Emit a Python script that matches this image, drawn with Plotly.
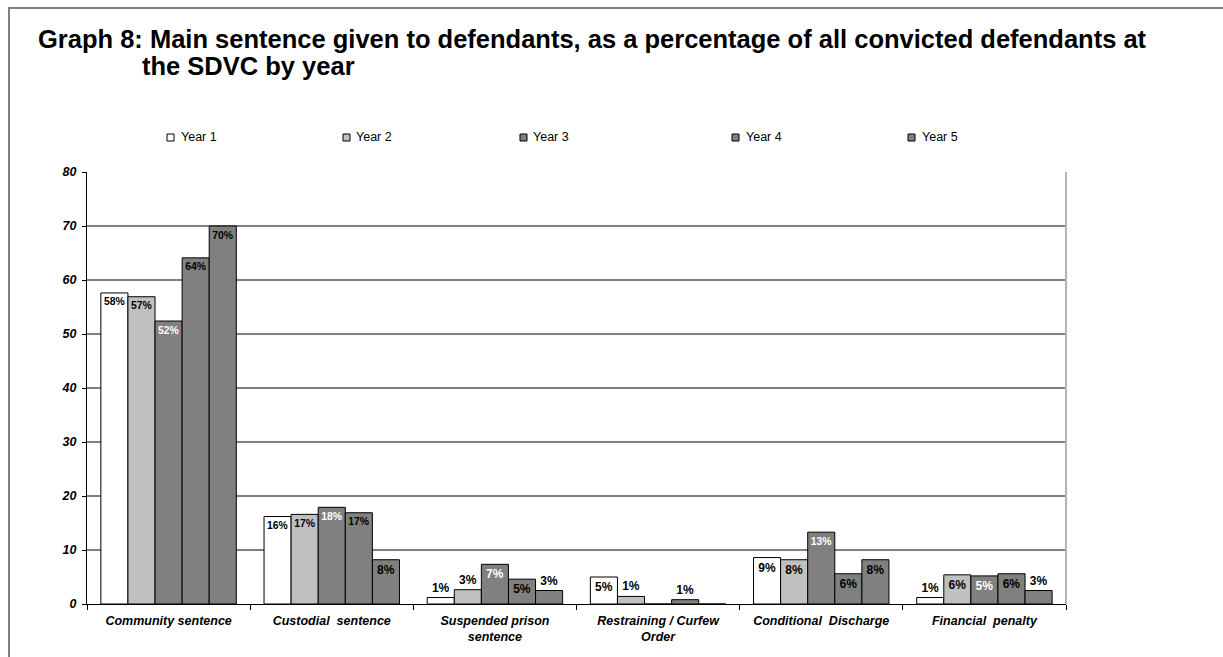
import plotly.graph_objects as go

categories = ["Community sentence", "Custodial  sentence", "Suspended prison<br>sentence",
              "Restraining / Curfew<br>Order", "Conditional  Discharge", "Financial  penalty"]
years = ["Year 1", "Year 2", "Year 3", "Year 4", "Year 5"]

year1 = [57.6, 16.2, 1.2, 5.0, 8.6, 1.2]
year2 = [56.9, 16.6, 2.65, 1.4, 8.2, 5.4]
year3 = [52.4, 17.9, 7.35, 0.0, 13.3, 5.2]
year4 = [64.1, 16.9, 4.6, 0.8, 5.6, 5.6]
year5 = [70.0, 8.2, 2.5, 0.0, 8.2, 2.5]

labels1 = ["58%", "16%", "1%", "5%", "9%", "1%"]
labels2 = ["57%", "17%", "3%", "1%", "8%", "6%"]
labels3 = ["52%", "18%", "7%", "", "13%", "5%"]
labels4 = ["64%", "17%", "5%", "1%", "6%", "6%"]
labels5 = ["70%", "8%", "3%", "", "8%", "3%"]

series = [year1, year2, year3, year4, year5]
labels = [labels1, labels2, labels3, labels4, labels5]
colors = ["#ffffff", "#c0c0c0", "#808080", "#808080", "#808080"]
inside_text_colors = ["#000000", "#000000", "#ffffff", "#000000", "#000000"]

positions = [
    ["inside", "inside", "outside", "inside", "inside", "outside"],
    ["inside", "inside", "outside", "outside", "inside", "inside"],
    ["inside", "inside", "inside", "none", "inside", "inside"],
    ["inside", "inside", "inside", "outside", "inside", "inside"],
    ["inside", "inside", "outside", "none", "inside", "outside"],
]

W, H = 1223, 657
L, R, T, B = 87, 157, 172, 53
PW, PH = W - L - R, H - T - B


def px(x):
    return (x - L) / PW


def py(y):
    return (H - B - y) / PH


FONT = "Liberation Sans, Arial, sans-serif"
fig = go.Figure()

for i in range(5):
    fig.add_trace(go.Bar(
        x=categories, y=series[i], name=years[i],
        marker=dict(color=colors[i], line=dict(color="#000000", width=1)),
        text=labels[i], textposition=positions[i],
        insidetextanchor="end",
        insidetextfont=dict(color=inside_text_colors[i], size=12, family=FONT, weight="bold"),
        outsidetextfont=dict(color="#000000", size=12, family=FONT, weight="bold"),
        textangle=0, cliponaxis=False,
        showlegend=False,
    ))

fig.update_layout(
    width=W, height=H,
    margin=dict(l=L, r=R, t=T, b=B, autoexpand=False),
    paper_bgcolor="#ffffff", plot_bgcolor="#ffffff",
    barmode="group", bargap=0.17, bargroupgap=0,
    showlegend=False,
    font=dict(family=FONT, color="#000000"),
)

fig.update_yaxes(
    range=[0, 80], dtick=10, tick0=0,
    showgrid=True, gridcolor="#808080", gridwidth=2,
    showline=True, linecolor="#000000", linewidth=1,
    ticks="outside", ticklen=4, tickcolor="#000000", ticklabelstandoff=3,
    tickfont=dict(family=FONT, size=12.5, weight="bold", style="italic", color="#000000"),
    zeroline=False,
)
fig.update_xaxes(
    showline=True, linecolor="#000000", linewidth=1,
    ticks="outside", ticklen=5, tickcolor="#000000", tickson="boundaries",
    ticklabelstandoff=5,
    tickfont=dict(family=FONT, size=12.5, weight="bold", style="italic", color="#000000"),
    showgrid=False,
)

# legend (one small square and a label per series)
legend_square_x = [167, 343, 520, 732, 908]
legend_text_x = [179, 354, 531, 744, 920]
for i in range(5):
    fig.add_shape(type="rect", xref="paper", yref="paper",
                  x0=px(legend_square_x[i]), x1=px(legend_square_x[i] + 7),
                  y0=py(141), y1=py(134),
                  fillcolor=colors[i], line=dict(color="#000000", width=1))
    fig.add_annotation(xref="paper", yref="paper", x=px(legend_text_x[i]), y=py(137.5),
                       xanchor="left", yanchor="middle", text=years[i], showarrow=False,
                       font=dict(family=FONT, size=12.5, color="#000000"))

# right edge of plot area
fig.add_shape(type="line", xref="paper", yref="paper", x0=1, x1=1, y0=0, y1=1,
              line=dict(color="#b4b4b4", width=2))
# outer frame
fig.add_shape(type="rect", xref="paper", yref="paper",
              x0=px(9), x1=px(1300), y0=py(700), y1=py(8),
              line=dict(color="#808080", width=2))

fig.add_annotation(xref="paper", yref="paper", x=px(36), y=py(39), xanchor="left", yanchor="middle",
                   text="<b>Graph 8: Main sentence given to defendants, as a percentage of all convicted defendants at</b>",
                   showarrow=False, font=dict(family=FONT, size=25.5, color="#000000"))
fig.add_annotation(xref="paper", yref="paper", x=px(140), y=py(66), xanchor="left", yanchor="middle",
                   text="<b>the SDVC by year</b>",
                   showarrow=False, font=dict(family=FONT, size=25.5, color="#000000"))

fig.write_html("out.html", config={"displayModeBar": False},
               post_script="document.body.style.margin='0';document.body.style.overflow='hidden';")
